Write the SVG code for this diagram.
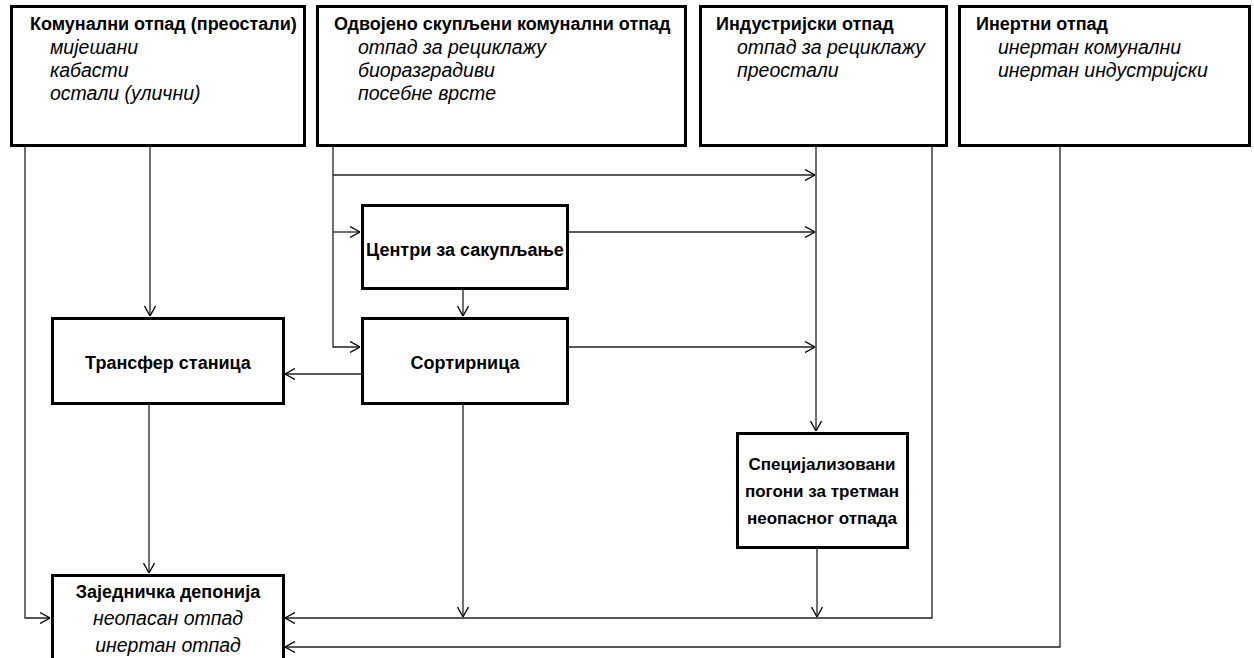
<svg xmlns="http://www.w3.org/2000/svg" width="1254" height="658" viewBox="0 0 1254 658">
<style>
.box{fill:#fff;stroke:#000;stroke-width:3}
.t{font-family:"Liberation Sans",Arial,sans-serif;font-size:18px;font-weight:bold;fill:#000}
.i{font-family:"Liberation Sans",Arial,sans-serif;font-size:19.5px;font-style:italic;fill:#000}
.s{font-size:17px}
.c{text-anchor:middle}
.ln{fill:none;stroke:#222;stroke-width:1.3;marker-end:url(#ah)}
</style>
<defs>
<marker id="ah" viewBox="0 0 10 12" refX="10" refY="6" markerWidth="10" markerHeight="12" markerUnits="userSpaceOnUse" orient="auto">
<path d="M0,0.5 L10,6 L0,11.5" fill="none" stroke="#000" stroke-width="1.3"/>
</marker>
</defs>
<rect width="1254" height="658" fill="#fff"/>
<g id="connectors">
<path class="ln" d="M25,147 V618 H50"/>
<path class="ln" d="M150,147 V316"/>
<path class="ln" d="M333,147 V347 H360"/>
<path class="ln" d="M333,175 H815"/>
<path class="ln" d="M333,232 H360"/>
<path class="ln" d="M568,232 H815"/>
<path class="ln" d="M463,289 V316"/>
<path class="ln" d="M568,347 H815"/>
<path class="ln" d="M362,374 H285"/>
<path class="ln" d="M816,147 V431"/>
<path class="ln" d="M817,547 V617"/>
<path class="ln" d="M932,147 V618 H285"/>
<path class="ln" d="M463,404 V617"/>
<path class="ln" d="M149,404 V573"/>
<path class="ln" d="M1060,147 V647 H285"/>
</g>
<g id="komunalni">
<rect class="box" x="11.5" y="6.5" width="293" height="139"/>
<text class="t" x="30" y="30">Комунални отпад (преостали)</text>
<text class="i" x="50" y="54">мијешани</text>
<text class="i" x="50" y="77">кабасти</text>
<text class="i" x="50" y="100">остали (улични)</text>
</g>
<g id="odvojeno">
<rect class="box" x="317.5" y="6.5" width="368" height="139"/>
<text class="t" x="334" y="30">Одвојено скупљени комунални отпад</text>
<text class="i" x="358" y="54">отпад за рециклажу</text>
<text class="i" x="358" y="77">биоразградиви</text>
<text class="i" x="358" y="100">посебне врсте</text>
</g>
<g id="industrijski">
<rect class="box" x="700.5" y="6.5" width="246" height="139"/>
<text class="t" x="716" y="30">Индустријски отпад</text>
<text class="i" x="737" y="54">отпад за рециклажу</text>
<text class="i" x="737" y="77">преостали</text>
</g>
<g id="inertni">
<rect class="box" x="959.5" y="6.5" width="290" height="139"/>
<text class="t" x="976" y="30">Инертни отпад</text>
<text class="i" x="998" y="54">инертан комунални</text>
<text class="i" x="998" y="77">инертан индустријски</text>
</g>
<g id="centri">
<rect class="box" x="362.5" y="205.5" width="205" height="83"/>
<text class="t c" x="465" y="256">Центри за сакупљање</text>
</g>
<g id="transfer">
<rect class="box" x="52.5" y="318.5" width="231" height="85"/>
<text class="t c" x="168" y="369">Трансфер станица</text>
</g>
<g id="sortirnica">
<rect class="box" x="362.5" y="318.5" width="205" height="85"/>
<text class="t c" x="465" y="369">Сортирница</text>
</g>
<g id="specijalizovani">
<rect class="box" x="737.5" y="433.5" width="170" height="114"/>
<text class="t s c" x="822" y="470">Специјализовани</text>
<text class="t s c" x="822" y="497">погони за третман</text>
<text class="t s c" x="822" y="524">неопасног отпада</text>
</g>
<g id="deponija">
<rect class="box" x="52.5" y="575.5" width="231" height="100"/>
<text class="t c" x="168" y="598">Заједничка депонија</text>
<text class="i c" x="168" y="625">неопасан отпад</text>
<text class="i c" x="168" y="652">инертан отпад</text>
</g>
</svg>
